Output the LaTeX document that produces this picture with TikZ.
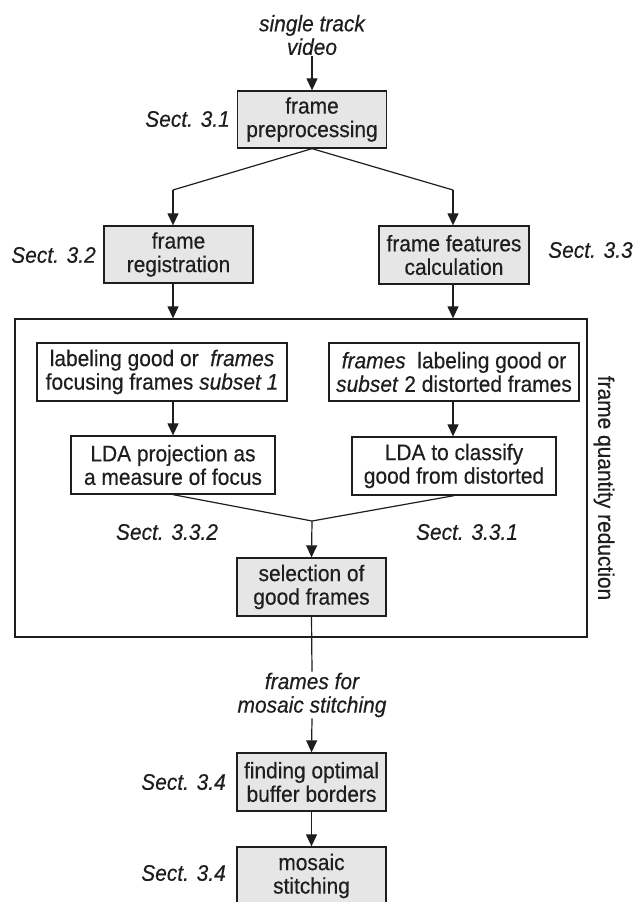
\documentclass[tikz,border=0pt]{standalone}
\usepackage{fontspec}
\setmainfont[FakeStretch=0.93,FakeBold=0.4]{Liberation Sans}
\usetikzlibrary{arrows.meta,calc}
\definecolor{boxgray}{HTML}{E6E6E6}
\definecolor{ink}{HTML}{1E1E1E}
\tikzset{
  base/.style={font=\fontsize{22.5}{23.5}\selectfont, text=ink},
  graybox/.style={base, draw=ink, line width=1.3pt, fill=boxgray, minimum width=149pt, minimum height=57pt, inner sep=0pt, align=center},
  whitebox/.style={base, draw=ink, line width=1.3pt, fill=white, minimum height=58pt, inner sep=0pt, align=center},
  lbl/.style={base, font=\fontsize{22.5}{23.5}\selectfont\itshape, inner sep=1pt, align=center},
  conn/.style={draw=ink, line width=1.2pt},
  arr/.style={conn, -{Triangle[length=12pt,width=11pt]}}
}
\begin{document}
\begin{tikzpicture}[x=1pt,y=-1pt]
\useasboundingbox (0,0) rectangle (639,902);
\begin{scope}
\clip (0,0) rectangle (639,902);
% frame box
\node[draw=ink, line width=1.3pt, minimum width=572pt, minimum height=318pt, inner sep=0pt] (big) at (301,478) {};
\node[base, rotate=-90] (fqr) at (604,488) {frame quantity reduction};

% top
\node[lbl] (in) at (312,35) {single track\\video};
\node[graybox] (pre) at (312,119.5) {frame\\preprocessing};
\node[lbl, anchor=east] (s31) at (231,119) {Sect. 3.1};

\node[graybox] (reg) at (178.5,254.5) {frame\\registration};
\node[lbl, anchor=east] (s32) at (97,255) {Sect. 3.2};
\node[graybox, minimum width=150pt, minimum height=58pt] (feat) at (454,255) {frame features\\calculation};
\node[lbl, anchor=west] (s33) at (547,250) {Sect. 3.3};

\coordinate (ja) at (173,190);
\coordinate (jb) at (453,190);

% inner
\node[whitebox, minimum width=250pt] (lab1) at (162,372) {labeling good or \ \textit{frames}\\focusing frames \textit{subset 1}};
\node[whitebox, minimum width=250pt] (lab2) at (454,372) {\textit{frames} \ labeling good or\\\textit{subset} 2 distorted frames};
\node[whitebox, minimum width=204pt] (lda1) at (173,465) {LDA projection as\\a measure of focus};
\node[whitebox, minimum width=204pt] (lda2) at (454,466) {LDA to classify\\good from distorted};
\node[lbl] (s332) at (167,532) {Sect. 3.3.2};
\node[lbl] (s331) at (467,532) {Sect. 3.3.1};
\coordinate (m) at (312,521);
\node[graybox, minimum height=58pt] (sel) at (311.5,587) {selection of\\good frames};

% bottom
\node[lbl] (ffm) at (312,695) {frames for\\mosaic stitching};
\node[graybox, minimum height=58pt] (find) at (311.5,782) {finding optimal\\buffer borders};
\node[lbl, anchor=east] (s34a) at (227,782) {Sect. 3.4};
\node[graybox, minimum height=58pt] (mos) at (311.5,876) {mosaic\\stitching};
\node[lbl, anchor=east] (s34b) at (227,873) {Sect. 3.4};

% connectors
\draw[arr] (in.south) -- (pre.north);
\draw[conn] (pre.south) -- (ja);
\draw[arr] (ja) -- (ja |- reg.north);
\draw[conn] (pre.south) -- (jb);
\draw[arr] (jb) -- (jb |- feat.north);
\draw[arr] (ja |- reg.south) -- (ja |- big.north);
\draw[arr] (jb |- feat.south) -- (jb |- big.north);
\draw[arr] (lda1.north |- lab1.south) -- (lda1.north);
\draw[arr] (jb |- lab2.south) -- (jb |- lda2.north);
\draw[conn] (lda1.south) -- (m);
\draw[conn] (lda2.south) -- (m);
\draw[arr] (m) -- (sel.north);
\draw[conn] (sel.south) -- (ffm.north);
\draw[arr] (ffm.south) -- (find.north);
\draw[arr] (find.south) -- (mos.north);
\end{scope}
\end{tikzpicture}
\end{document}
